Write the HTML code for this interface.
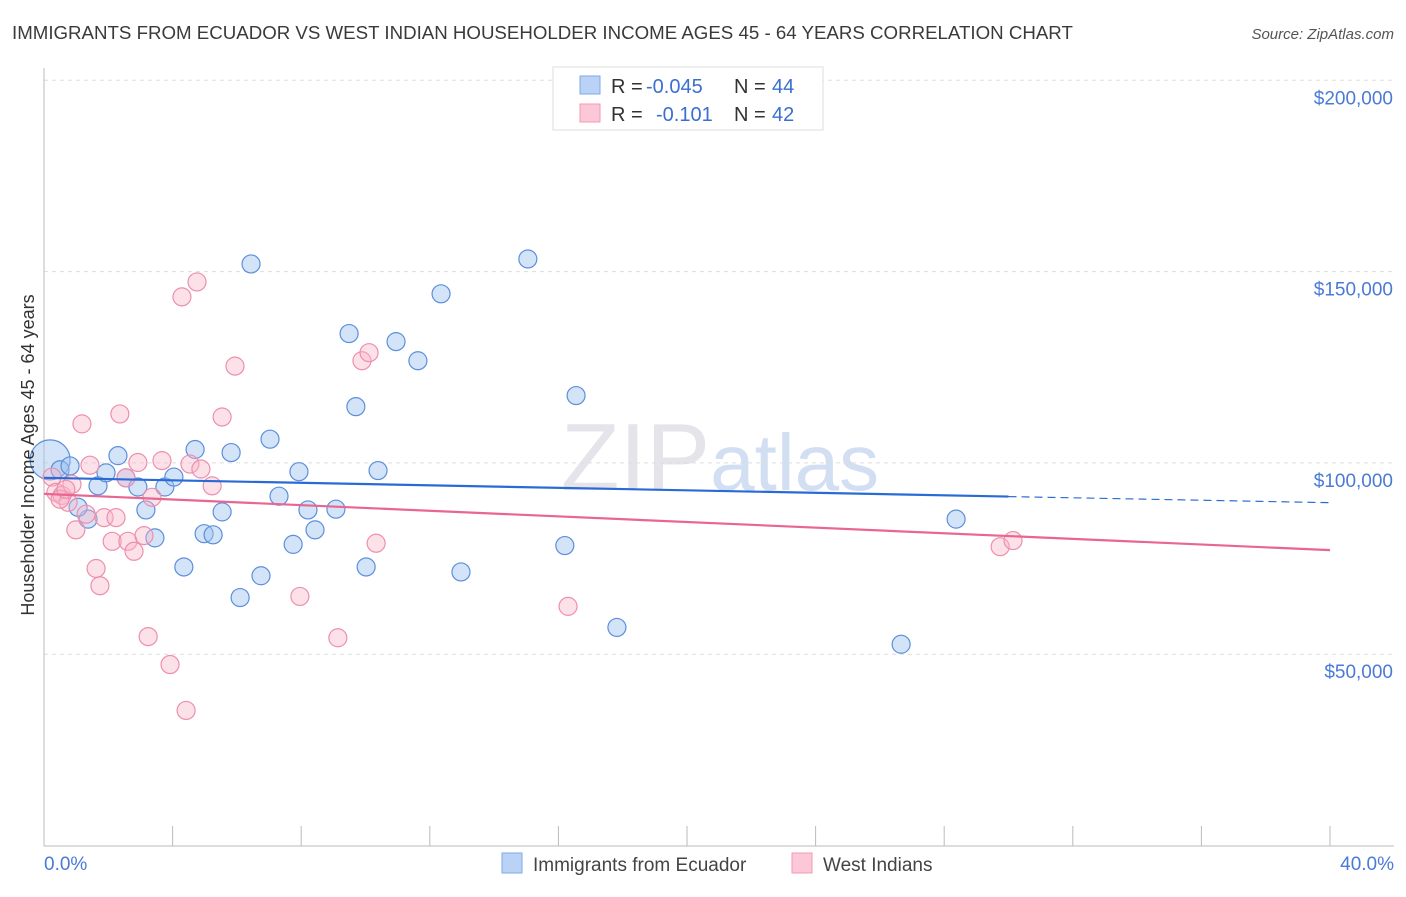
<!DOCTYPE html>
<html><head><meta charset="utf-8"><style>
body{margin:0;background:#fff;font-family:"Liberation Sans",sans-serif;}
svg text{font-family:"Liberation Sans",sans-serif;}
</style></head><body>
<svg id="chart" width="1406" height="892" xmlns="http://www.w3.org/2000/svg">
<text x="12" y="39" font-size="18.7" fill="#3a3a3a">IMMIGRANTS FROM ECUADOR VS WEST INDIAN HOUSEHOLDER INCOME AGES 45 - 64 YEARS CORRELATION CHART</text>
<text x="1394" y="39" font-size="15" fill="#555" text-anchor="end" font-style="italic">Source: ZipAtlas.com</text>
<text x="720" y="490" font-size="96" fill="#e4e4ea" text-anchor="middle" font-family="Liberation Serif">ZIP<tspan fill="#d2def2" font-family="Liberation Sans" font-size="80">atlas</tspan></text>
<g id="grid"></g>
<g id="axes"></g>
<g id="marks"></g>
<text transform="translate(34,455) rotate(-90)" font-size="18" fill="#333" text-anchor="middle">Householder Income Ages 45 - 64 years</text>
<g>
<rect x="553" y="67" width="270" height="63" fill="#fff" stroke="#ddd"/>
<rect x="580" y="76" width="20" height="18" fill="#b9d2f5" stroke="#7fa8e6"/>
<rect x="580" y="104" width="20" height="18" fill="#fcc8d8" stroke="#f09ab5"/>
<text x="611" y="93" font-size="20" fill="#333">R =</text>
<text x="646" y="93" font-size="20" fill="#3a6fd0">-0.045</text>
<text x="734" y="93" font-size="20" fill="#333">N =</text>
<text x="772" y="93" font-size="20" fill="#3a6fd0">44</text>
<text x="611" y="121" font-size="20" fill="#333">R =</text>
<text x="656" y="121" font-size="20" fill="#3a6fd0">-0.101</text>
<text x="734" y="121" font-size="20" fill="#333">N =</text>
<text x="772" y="121" font-size="20" fill="#3a6fd0">42</text>
</g>
<g>
<rect x="502" y="853" width="20" height="20" fill="#b9d2f5" stroke="#7fa8e6"/>
<text x="533" y="871" font-size="19" fill="#444">Immigrants from Ecuador</text>
<rect x="792" y="853" width="20" height="20" fill="#fcc8d8" stroke="#f09ab5"/>
<text x="823" y="871" font-size="19" fill="#444">West Indians</text>
</g>
</svg>
<script>
const yTicks=[50000,100000,150000,200000];
const yTickLabels=["$50,000","$100,000","$150,000","$200,000"];
const xTickLabels=["0.0%","40.0%"];
const ecuadorX=[0.19,0.5,0.81,1.68,1.93,2.3,2.55,2.92,3.17,3.45,3.76,4.04,4.35,4.7,4.98,5.26,5.54,5.82,6.1,6.44,6.75,7.03,7.31,7.75,7.93,8.21,8.43,9.08,9.49,9.7,10.02,10.39,10.95,11.63,12.35,12.97,15.05,16.2,16.55,17.82,26.66,28.37,1.37,1.06];
const ecuadorY=[100800,98200,99200,94000,97400,101900,96100,93700,87700,80400,93700,96300,72800,103500,81500,81200,87200,102700,64800,152000,70500,106200,91300,78700,97700,87700,82500,87900,133800,114700,72800,98000,131700,126700,144200,71500,153300,78400,117600,57000,52600,85300,85300,88400];
const ecuadorR=[20,9,9,9,9,9,9,9,9,9,9,9,9,9,9,9,9,9,9,9,9,9,9,9,9,9,9,9,9,9,9,9,9,9,9,9,9,9,9,9,9,9,9,9];
const westX=[0.25,0.37,0.56,0.75,0.87,0.99,1.18,1.31,1.43,1.62,1.74,1.87,2.12,2.24,2.36,2.55,2.61,2.8,2.92,3.11,3.24,3.36,3.67,3.92,4.29,4.42,4.54,4.76,4.88,5.23,5.54,5.94,7.96,9.14,9.89,10.11,10.33,16.3,29.74,30.14,0.5,0.68];
const westY=[96300,92300,91500,89700,94400,82500,110200,86600,99400,72400,67900,85700,79500,85700,112800,96100,79500,76900,100100,81000,54600,91000,100600,47300,143400,35300,99700,147300,98400,94000,112000,125300,65100,54300,126700,128800,79000,62500,78100,79700,90500,93100];
const ecuadorTrend=[[0,96100],[30,91200],[40,89600]];
const westTrend=[[0,91900],[40,77200]];
const X=v=>44+v*32.15;
const Y=v=>845.5-v*191.3/50000;
const NS="http://www.w3.org/2000/svg";
function mk(tag,attrs,parent){const e=document.createElementNS(NS,tag);for(const k in attrs)e.setAttribute(k,attrs[k]);parent.appendChild(e);return e;}
const grid=document.getElementById('grid'),axes=document.getElementById('axes'),marks=document.getElementById('marks');
yTicks.forEach((t,i)=>{
 const l=mk('line',{x1:44,x2:1394,y1:Y(t),y2:Y(t),stroke:'#ddd','stroke-dasharray':'4,4'},grid);
 
 
 const tx=mk('text',{x:1393,y:Y(t)+24,'font-size':19,fill:'#4a7ad6','text-anchor':'end'},axes);
 tx.textContent=yTickLabels[i];
 
 
});
const ya=mk('line',{x1:44,x2:44,y1:68,y2:846,stroke:'#bbb'},axes);


const xa=mk('line',{x1:44,x2:1394,y1:846,y2:846,stroke:'#bbb'},axes);


for(let i=0;i<=10;i++){
 const tk=mk('line',{x1:X(i*4),x2:X(i*4),y1:826,y2:846,stroke:'#bbb'},axes);
 
 
}
[[0,'start',44],[40,'end',1394]].forEach((d,i)=>{
 const t=mk('text',{x:d[2],y:870,'font-size':19,fill:'#4a7ad6','text-anchor':d[1]},axes);
 t.textContent=xTickLabels[i];
 
 
});
ecuadorX.forEach((x,i)=>{
 const c=mk('circle',{cx:X(x),cy:Y(ecuadorY[i]),r:ecuadorR[i],fill:'rgba(160,195,240,0.45)',stroke:'#5b8fdc','stroke-width':1.2},marks);
 
 
});
westX.forEach((x,i)=>{
 const c=mk('circle',{cx:X(x),cy:Y(westY[i]),r:9,fill:'rgba(250,180,200,0.4)',stroke:'#ec8fae','stroke-width':1.2},marks);
 
 
});
const b1=mk('line',{x1:X(ecuadorTrend[0][0]),y1:Y(ecuadorTrend[0][1]),x2:X(ecuadorTrend[1][0]),y2:Y(ecuadorTrend[1][1]),stroke:'#2a6ad6','stroke-width':2.2},marks);


const b2=mk('line',{x1:X(ecuadorTrend[1][0]),y1:Y(ecuadorTrend[1][1]),x2:X(ecuadorTrend[2][0]),y2:Y(ecuadorTrend[2][1]),stroke:'#2a6ad6','stroke-width':1.2,'stroke-dasharray':'8,5'},marks);


const p1=mk('line',{x1:X(westTrend[0][0]),y1:Y(westTrend[0][1]),x2:X(westTrend[1][0]),y2:Y(westTrend[1][1]),stroke:'#e8668f','stroke-width':2.2},marks);


</script>
</body></html>
